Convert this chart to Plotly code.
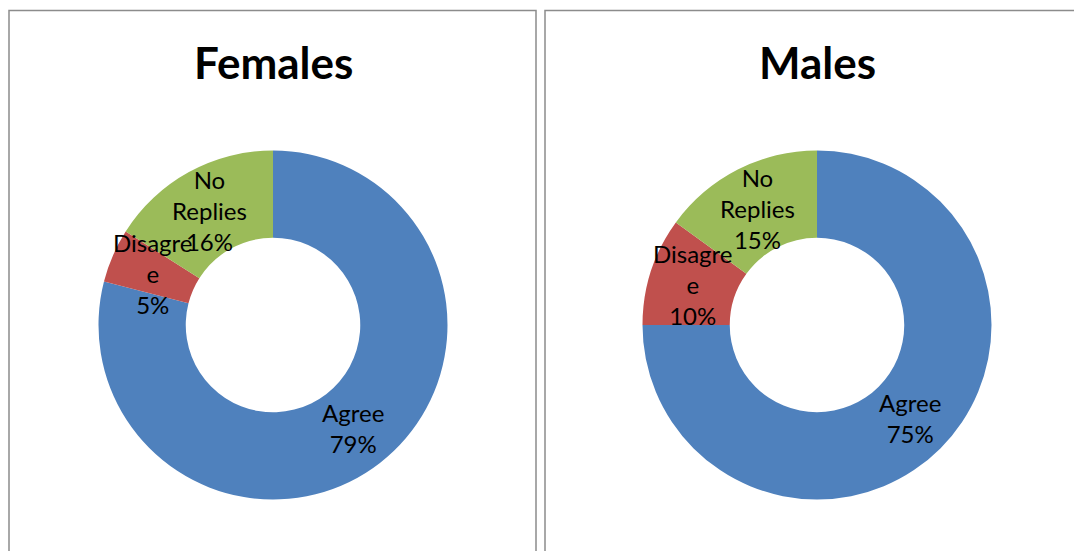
import math
import plotly.graph_objects as go

W, H = 1074, 551

categories = ["Agree", "Disagree", "No Replies"]
display_labels = ["Agree", "Disagre<br>e", "No<br>Replies"]
females = [79, 5, 16]
males = [75, 10, 15]
titles = ["Females", "Males"]
colors = ["#4F81BD", "#C0504D", "#9BBB59"]

# panel geometry (pixels)
centers = [(273, 325), (817, 325)]
R = 174.5
HOLE = 0.5

fig = go.Figure()

def px2paper(x, y):
    return x / W, 1 - y / H

for idx, (vals, title) in enumerate(zip([females, males], titles)):
    cx, cy = centers[idx]
    dx0, dy1 = px2paper(cx - R, cy - R)
    dx1, dy0 = px2paper(cx + R, cy + R)
    fig.add_trace(go.Pie(
        labels=categories, values=vals, sort=False, direction="clockwise",
        rotation=0, hole=HOLE, textinfo="none", hoverinfo="label+percent",
        marker=dict(colors=colors, line=dict(width=0)),
        domain=dict(x=[dx0, dx1], y=[dy0, dy1]), showlegend=False,
    ))
    total = sum(vals)
    cum = 0
    rmid = R * (1 + HOLE) / 2
    for lab, v in zip(display_labels, vals):
        mid = (cum + v / 2) / total * 2 * math.pi
        cum += v
        x = cx + rmid * math.sin(mid)
        y = cy - rmid * math.cos(mid)
        pxp, pyp = px2paper(x, y)
        pct = round(v / total * 100)
        fig.add_annotation(
            x=pxp, y=pyp, xref="paper", yref="paper", xanchor="center", yanchor="middle",
            text=f"{lab}<br>{pct}%", showarrow=False,
            font=dict(family="Lato", size=24, color="black"),
        )
    tx, ty = px2paper(cx, 62)
    fig.add_annotation(
        x=tx, y=ty, xref="paper", yref="paper", xanchor="center", yanchor="middle",
        text=f"<b>{title}</b>", showarrow=False,
        font=dict(family="Lato", size=44, color="black"),
    )

# panel borders
for x0, x1 in [(9, 536), (545, 1085)]:
    a0, b1 = px2paper(x0, 10.5)
    a1, b0 = px2paper(x1, 580)
    fig.add_shape(type="rect", xref="paper", yref="paper", x0=a0, x1=a1, y0=b0, y1=b1,
                  line=dict(color="#8C8C8C", width=1.5), fillcolor="rgba(0,0,0,0)")

fig.update_layout(
    width=W, height=H, margin=dict(l=0, r=0, t=0, b=0),
    paper_bgcolor="white", plot_bgcolor="white",
)
fig.write_html("out.html")
